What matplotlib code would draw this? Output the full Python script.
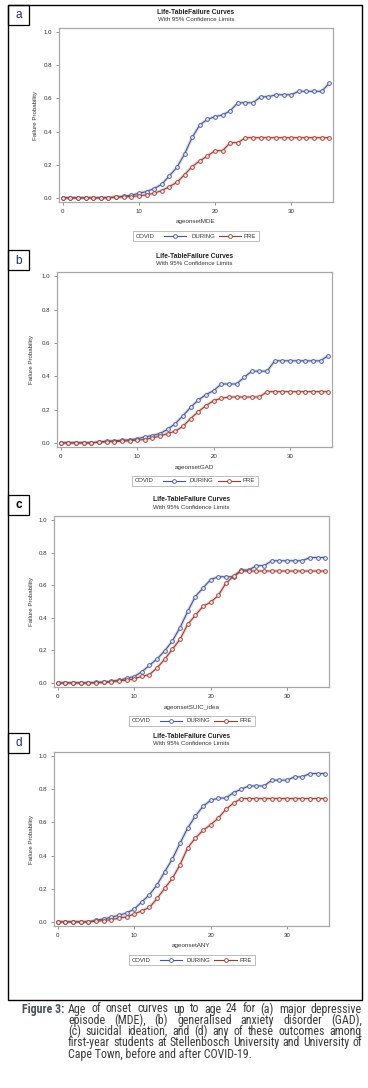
import matplotlib
matplotlib.use("Agg")
import matplotlib.pyplot as plt
from matplotlib.patches import Rectangle
from matplotlib.lines import Line2D
from matplotlib import font_manager

# ---------------- data ----------------
ages = list(range(36))

mde_during = [0, 0, 0, 0, 0, 0, 0.002, 0.005, 0.01, 0.016, 0.028, 0.038, 0.056, 0.082,
              0.133, 0.185, 0.265, 0.365, 0.44, 0.474, 0.49, 0.50, 0.526, 0.574, 0.574,
              0.574, 0.61, 0.61, 0.622, 0.622, 0.622, 0.643, 0.643, 0.643, 0.643, 0.691]
mde_pre = [0, 0, 0, 0, 0, 0, 0, 0.004, 0.006, 0.008, 0.012, 0.018, 0.028, 0.044, 0.068,
           0.094, 0.14, 0.189, 0.223, 0.253, 0.285, 0.285, 0.333, 0.333] + [0.363] * 12

gad_during = [0, 0, 0, 0, 0, 0.005, 0.01, 0.012, 0.016, 0.018, 0.024, 0.036, 0.044, 0.056,
              0.082, 0.116, 0.163, 0.213, 0.257, 0.289, 0.313, 0.353, 0.353, 0.353, 0.393,
              0.43, 0.43, 0.43] + [0.492] * 7 + [0.524]
gad_pre = [0, 0, 0, 0, 0, 0.004, 0.006, 0.008, 0.009, 0.013, 0.016, 0.02, 0.03, 0.04, 0.056,
           0.07, 0.10, 0.146, 0.187, 0.223, 0.253, 0.267] + [0.275] * 5 + [0.307] * 9

suic_during = [0, 0, 0, 0, 0, 0.004, 0.006, 0.01, 0.016, 0.029, 0.039, 0.069, 0.108, 0.148,
               0.197, 0.258, 0.34, 0.439, 0.53, 0.583, 0.634] + [0.652] * 3 + [0.693] * 2 \
              + [0.72] * 2 + [0.75] * 5 + [0.77] * 3
suic_pre = [0, 0, 0, 0, 0, 0, 0.003, 0.006, 0.014, 0.016, 0.024, 0.041, 0.051, 0.093, 0.146,
            0.207, 0.268, 0.36, 0.415, 0.47, 0.496, 0.537, 0.612, 0.655] + [0.687] * 12

any_during = [0, 0, 0, 0, 0, 0.01, 0.018, 0.028, 0.04, 0.053, 0.077, 0.121, 0.164, 0.224,
              0.303, 0.38, 0.475, 0.566, 0.638, 0.697, 0.733, 0.747, 0.747, 0.78, 0.80] \
             + [0.82] * 3 + [0.855] * 3 + [0.875] * 2 + [0.895] * 3
any_pre = [0, 0, 0, 0, 0, 0.004, 0.008, 0.013, 0.023, 0.03, 0.047, 0.067, 0.087, 0.141,
           0.204, 0.262, 0.345, 0.447, 0.505, 0.552, 0.586, 0.626, 0.679, 0.717] + [0.744] * 12

panel_letters = ["a", "b", "c", "d"]
xlabels = ["ageonsetMDE", "ageonsetGAD", "ageonsetSUIC_idea", "ageonsetANY"]
during_series = [mde_during, gad_during, suic_during, any_during]
pre_series = [mde_pre, gad_pre, suic_pre, any_pre]
group_names = ["DURING", "PRE"]
legend_title = "COVID"
title = "Life-TableFailure Curves"
subtitle = "With 95% Confidence Limits"
ylabel = "Failure Probability"
xticks = [0, 10, 20, 30]
yticks = [0.0, 0.2, 0.4, 0.6, 0.8, 1.0]

caption_head = "Figure 3:"
caption_lines = [
    "Age of onset curves up to age 24 for (a) major depressive",
    "episode (MDE), (b) generalised anxiety disorder (GAD),",
    "(c) suicidal ideation, and (d) any of these outcomes among",
    "first-year students at Stellenbosch University and University of",
    "Cape Town, before and after COVID-19.",
]

# ---------------- styling ----------------
W, H = 368, 1088
C_DUR = "#445694"
C_PRE = "#A23A2E"
FONT = "Liberation Sans"

installed = {f.name for f in font_manager.fontManager.ttflist}
cap_font = FONT
for cand in ["Liberation Sans Narrow", "Roboto Condensed", "Arial Narrow", "Open Sans Condensed"]:
    if cand in installed:
        cap_font = cand
        break

plt.rcParams["font.family"] = [FONT, "DejaVu Sans"]

fig = plt.figure(figsize=(W / 100, H / 100), dpi=100)
fig.patch.set_facecolor("white")


def fx(px):
    return px / W


def fy(py):
    return 1 - py / H


# axes rectangles in pixels: left, top, right, bottom
axes_px = [(59, 28, 333, 202), (57, 272, 332, 447), (54, 516, 329, 687), (54, 752, 329, 926)]
label_box_px = [5, 250, 495, 733]
ylabel_x = [35, 32, 31, 31]
letter_colors = ["#1b2d66", "#1b2d66", "#000000", "#1b2d66"]

for i in range(4):
    l, t, r, b = axes_px[i]
    ax = fig.add_axes([fx(l), fy(b), fx(r - l), (b - t) / H])
    for ys, col, face in [(during_series[i], C_DUR, "#dfe3f1"), (pre_series[i], C_PRE, "#f1dcda")]:
        ax.plot(ages, ys, color=col, lw=2.4, alpha=0.2, solid_capstyle="round", zorder=2)
        ax.plot(ages, ys, color=col, lw=0.8, marker="o", markersize=2.7,
                markerfacecolor=face, markeredgecolor=col, markeredgewidth=0.6, zorder=3)
    ax.set_xlim(-0.5, 35.5)
    ax.set_ylim(-0.025, 1.025)
    ax.set_xticks(xticks)
    ax.set_yticks(yticks)
    ax.set_xticklabels([str(v) for v in xticks])
    ax.set_yticklabels([f"{v:.1f}" for v in yticks])
    ax.tick_params(axis="both", length=2.2, width=0.6, color="#808080", labelsize=4.4,
                   labelcolor="#333333", pad=2.5)
    for sp in ax.spines.values():
        sp.set_color("#a8a8a8")
        sp.set_linewidth(0.9)
    cx = (l + r) / 2
    fig.text(fx(cx), fy(t - 16), title, ha="center", va="center", fontsize=4.8,
             fontweight="bold", color="#222222")
    fig.text(fx(cx), fy(t - 8.5), subtitle, ha="center", va="center", fontsize=4.4,
             color="#333333")
    fig.text(fx(cx), fy(b + 20), xlabels[i], ha="center", va="center", fontsize=4.5,
             color="#333333")
    fig.text(fx(ylabel_x[i]), fy((t + b) / 2), ylabel, ha="center", va="center",
             rotation=90, fontsize=4.4, color="#333333")

    # legend
    ly = b + 34
    bl = cx - 63
    fig.add_artist(Rectangle((fx(bl), fy(ly + 5)), fx(126), 10 / H, transform=fig.transFigure,
                             facecolor="white", edgecolor="#bdbdbd", lw=0.7))
    fig.text(fx(bl + 3), fy(ly), legend_title, ha="left", va="center", fontsize=4.3,
             color="#333333")
    for (x0, x1, xm, xt), col, name in [((bl + 31, bl + 53, bl + 42, bl + 58), C_DUR, group_names[0]),
                                        ((bl + 86, bl + 108, bl + 97, bl + 111), C_PRE, group_names[1])]:
        fig.add_artist(Line2D([fx(x0), fx(x1)], [fy(ly), fy(ly)], transform=fig.transFigure,
                              color=col, lw=0.8))
        fig.add_artist(Line2D([fx(xm)], [fy(ly)], transform=fig.transFigure, color=col,
                              marker="o", markersize=2.7, markerfacecolor="white",
                              markeredgewidth=0.6, lw=0))
        fig.text(fx(xt), fy(ly), name, ha="left", va="center", fontsize=4.3, color="#333333")

    # panel letter box
    ty = label_box_px[i]
    fig.add_artist(Rectangle((fx(8), fy(ty + 20)), fx(21), 20 / H, transform=fig.transFigure,
                             facecolor="white", edgecolor="black", lw=0.9))
    fig.text(fx(18.5), fy(ty + 10.5), panel_letters[i], ha="center", va="center",
             fontsize=8.5, color=letter_colors[i],
             fontweight="bold" if panel_letters[i] == "c" else "normal")

# outer frame
fig.add_artist(Rectangle((fx(8), fy(1000)), fx(354), 995 / H, transform=fig.transFigure,
                         facecolor="none", edgecolor="black", lw=1.0))

# ---------------- caption (justified) ----------------
fig.canvas.draw()
renderer = fig.canvas.get_renderer()
x_left, x_right = 68, 362
probe = fig.text(0, 0, caption_lines[3], fontsize=10, family=[cap_font, "DejaVu Sans"])
w10 = probe.get_window_extent(renderer).width
probe.remove()
cap_size = min(9.2, 10 * (x_right - x_left - 6) / w10)

line_y = [1009, 1020.3, 1031.6, 1042.9, 1054.2]
fig.text(fx(64), fy(line_y[0]), caption_head, ha="right", va="center", fontsize=cap_size,
         fontweight="bold", color="#47505c", family=[cap_font, "DejaVu Sans"])
for k, line in enumerate(caption_lines):
    if k == len(caption_lines) - 1:
        fig.text(fx(x_left), fy(line_y[k]), line, ha="left", va="center", fontsize=cap_size,
                 color="#3a3a3a", family=[cap_font, "DejaVu Sans"])
        continue
    words = line.split(" ")
    arts, widths = [], []
    for wd in words:
        tt = fig.text(0, fy(line_y[k]), wd, ha="left", va="center", fontsize=cap_size,
                      color="#3a3a3a", family=[cap_font, "DejaVu Sans"])
        arts.append(tt)
        widths.append(tt.get_window_extent(renderer).width)
    gap = (x_right - x_left - sum(widths)) / (len(words) - 1)
    xp = x_left
    for tt, wdt in zip(arts, widths):
        tt.set_x(fx(xp))
        xp += wdt + gap

fig.savefig("out.png", dpi=100, facecolor="white")
